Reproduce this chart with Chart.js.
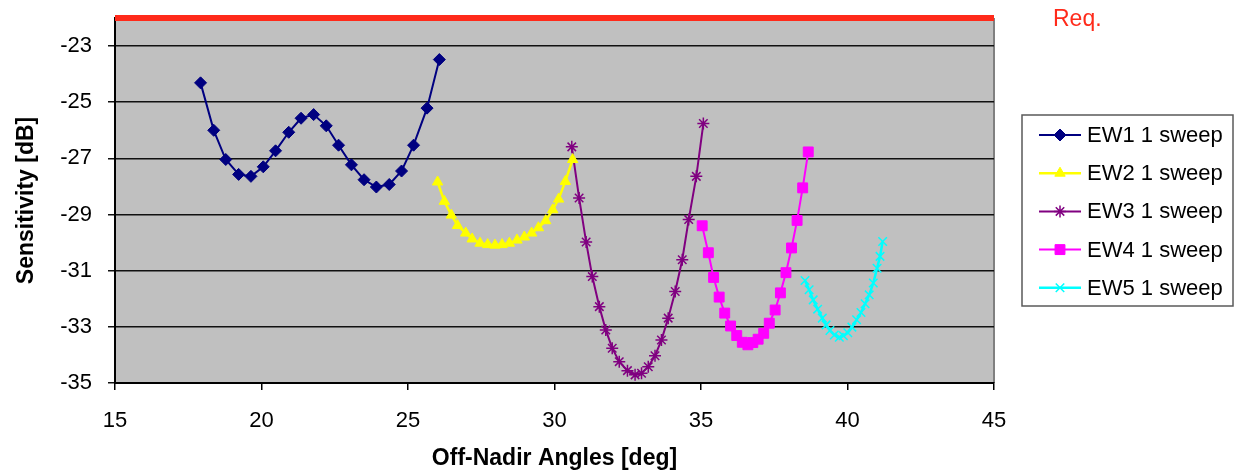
<!DOCTYPE html>
<html>
<head>
<meta charset="utf-8">
<script src="https://cdn.jsdelivr.net/npm/chart.js@4.4.1/dist/chart.umd.min.js"></script>
<style>
  html, body { margin: 0; padding: 0; background: #fff; }
  #wrap { width: 1235px; height: 476px; }
</style>
</head>
<body>
<div id="wrap"><canvas id="sensitivity" width="1235" height="476"></canvas></div>
<script>
// values (off-nadir angle in deg, sensitivity in dB)
const ew1Angles = [17.92, 18.37, 18.78, 19.22, 19.64, 20.06, 20.48, 20.93, 21.35, 21.78, 22.21, 22.63, 23.07, 23.50, 23.92, 24.36, 24.78, 25.19, 25.65, 26.07];
const ew1Sens = [-24.31, -26.0, -27.04, -27.57, -27.64, -27.30, -26.73, -26.07, -25.57, -25.44, -25.84, -26.53, -27.23, -27.76, -28.02, -27.93, -27.45, -26.53, -25.21, -23.48];

const ew2Angles = [26.01, 26.24, 26.48, 26.69, 26.97, 27.19, 27.46, 27.72, 27.97, 28.21, 28.46, 28.72, 28.97, 29.22, 29.45, 29.70, 29.94, 30.14, 30.37, 30.62];
const ew2Sens = [-27.84, -28.53, -29.02, -29.39, -29.66, -29.87, -30.02, -30.07, -30.09, -30.07, -30.02, -29.91, -29.80, -29.66, -29.47, -29.22, -28.83, -28.45, -27.82, -27.04];

const ew3Angles = [30.59, 30.84, 31.08, 31.29, 31.53, 31.75, 31.97, 32.21, 32.49, 32.75, 32.97, 33.20, 33.43, 33.65, 33.88, 34.12, 34.36, 34.58, 34.84, 35.08];
const ew3Sens = [-26.59, -28.41, -29.98, -31.21, -32.28, -33.11, -33.76, -34.24, -34.56, -34.71, -34.65, -34.42, -34.03, -33.47, -32.69, -31.74, -30.61, -29.18, -27.64, -25.76];

const ew4Angles = [35.04, 35.25, 35.43, 35.62, 35.81, 36.01, 36.22, 36.41, 36.60, 36.77, 36.95, 37.14, 37.33, 37.53, 37.71, 37.90, 38.09, 38.28, 38.47, 38.66];
const ew4Sens = [-29.40, -30.36, -31.24, -31.94, -32.51, -32.97, -33.31, -33.55, -33.64, -33.56, -33.44, -33.23, -32.87, -32.40, -31.79, -31.07, -30.19, -29.21, -28.05, -26.77];

const ew5Angles = [38.55, 38.69, 38.83, 38.98, 39.14, 39.27, 39.40, 39.55, 39.72, 39.86, 40.01, 40.15, 40.31, 40.46, 40.60, 40.74, 40.88, 41.01, 41.11, 41.20];
const ew5Sens = [-31.35, -31.68, -32.04, -32.37, -32.69, -32.93, -33.13, -33.29, -33.37, -33.32, -33.21, -33.01, -32.75, -32.49, -32.18, -31.86, -31.44, -30.91, -30.49, -29.96];

const seriesNames = ['EW1 1 sweep', 'EW2 1 sweep', 'EW3 1 sweep', 'EW4 1 sweep', 'EW5 1 sweep'];
const reqLevel = -22;
const reqRange = [15, 45];
const yTicks = [-35, -33, -31, -29, -27, -25, -23];

const FONT = '"Liberation Sans", Arial, sans-serif';

function toPoints(xs, ys) {
    return xs.map((x, i) => ({ x: x, y: ys[i] }));
}

function sweep(label, xs, ys, color, style, radius, width) {
    return {
        label: label,
        data: toPoints(xs, ys),
        borderColor: color,
        backgroundColor: color,
        borderWidth: width,
        pointStyle: style,
        pointRadius: radius,
        pointBorderWidth: style === 'star' || style === 'crossRot' ? 1.5 : 1,
        pointBorderColor: color,
        pointBackgroundColor: color,
        tension: 0,
        showLine: true,
        inLegend: true
    };
}

// draw a marker the same way chart.js does, with a small fallback
function marker(ctx, style, radius, x, y) {
    if (Chart.helpers && Chart.helpers.drawPoint) {
        Chart.helpers.drawPoint(ctx, { pointStyle: style, radius: radius, rotation: 0, borderWidth: 1 }, x, y);
        return;
    }
    ctx.beginPath();
    ctx.arc(x, y, radius, 0, Math.PI * 2);
    ctx.fill();
}

const extras = {
    id: 'extras',
    beforeDraw(chart) {
        const { ctx, chartArea: a } = chart;
        ctx.save();
        ctx.fillStyle = '#c0c0c0';
        ctx.fillRect(a.left, a.top, a.right - a.left, a.bottom - a.top);
        ctx.strokeStyle = '#808080';
        ctx.lineWidth = 2;
        ctx.beginPath();
        ctx.moveTo(a.right, a.top);
        ctx.lineTo(a.right, a.bottom);
        ctx.stroke();
        ctx.restore();
    },
    afterDraw(chart) {
        const { ctx, chartArea: a } = chart;
        const yScale = chart.scales.y;
        ctx.save();

        // Req. label next to the red line
        ctx.fillStyle = '#ff2a1a';
        ctx.font = '23px ' + FONT;
        ctx.textBaseline = 'middle';
        ctx.textAlign = 'left';
        ctx.fillText('Req.', a.right + 59, yScale.getPixelForValue(reqLevel) + 2);

        // legend box
        const bx = 1022, by = 115, bw = 211, bh = 191;
        ctx.strokeStyle = '#5a5a5a';
        ctx.lineWidth = 1.5;
        ctx.strokeRect(bx, by, bw, bh);

        const items = chart.data.datasets.filter(d => d.inLegend);
        ctx.font = '22px ' + FONT;
        items.forEach((d, i) => {
            const cy = 135 + i * 38.2;
            ctx.strokeStyle = d.borderColor;
            ctx.lineWidth = d.borderWidth;
            ctx.beginPath();
            ctx.moveTo(1039, cy);
            ctx.lineTo(1081, cy);
            ctx.stroke();
            ctx.fillStyle = d.pointBackgroundColor;
            ctx.strokeStyle = d.pointBorderColor;
            ctx.lineWidth = d.pointBorderWidth;
            marker(ctx, d.pointStyle, d.pointRadius, 1060, cy);
            ctx.fillStyle = '#000';
            ctx.textAlign = 'left';
            ctx.textBaseline = 'middle';
            ctx.fillText(d.label, 1087, cy + 1);
        });
        ctx.restore();
    }
};

new Chart(document.getElementById('sensitivity'), {
    type: 'scatter',
    data: {
        datasets: [
            sweep(seriesNames[0], ew1Angles, ew1Sens, '#000080', 'rectRot', 6, 2),
            sweep(seriesNames[1], ew2Angles, ew2Sens, '#ffff00', 'triangle', 6, 2.5),
            sweep(seriesNames[2], ew3Angles, ew3Sens, '#800080', 'star', 6, 2),
            sweep(seriesNames[3], ew4Angles, ew4Sens, '#ff00ff', 'rect', 7, 2),
            sweep(seriesNames[4], ew5Angles, ew5Sens, '#00ffff', 'crossRot', 6, 2.5),
            {
                label: 'Req.',
                data: reqRange.map(x => ({ x: x, y: reqLevel })),
                borderColor: '#ff2a1a',
                backgroundColor: '#ff2a1a',
                borderWidth: 6,
                pointRadius: 0,
                showLine: true,
                clip: false
            }
        ]
    },
    options: {
        responsive: false,
        animation: false,
        devicePixelRatio: 1,
        layout: { padding: { left: 10, right: 241, top: 18, bottom: 0 } },
        plugins: {
            legend: { display: false },
            tooltip: { enabled: false }
        },
        scales: {
            x: {
                type: 'linear',
                min: 15,
                max: 45,
                ticks: { stepSize: 5, color: '#000', font: { family: FONT, size: 22 }, padding: 18, maxRotation: 0 },
                grid: { drawOnChartArea: false, drawTicks: true, tickLength: 7, color: '#000', lineWidth: 1.5 },
                border: { color: '#000', width: 2 },
                title: {
                    display: true,
                    text: 'Off-Nadir Angles [deg]',
                    color: '#000',
                    font: { family: FONT, size: 23, weight: 'bold' },
                    padding: { top: 0, bottom: 4 }
                },
                afterFit: s => { s.height = 93; }
            },
            y: {
                type: 'linear',
                min: -35,
                max: reqLevel,
                afterBuildTicks: s => { s.ticks = yTicks.map(v => ({ value: v })); },
                ticks: { color: '#000', font: { family: FONT, size: 22 }, padding: 16 },
                grid: { color: '#111', lineWidth: 1.5, tickLength: 7 },
                border: { color: '#000', width: 2 },
                title: {
                    display: true,
                    text: 'Sensitivity [dB]',
                    color: '#000',
                    font: { family: FONT, size: 23, weight: 'bold' },
                    padding: { top: 3, bottom: 0 }
                },
                afterFit: s => { s.width = 105; s.paddingTop = 0; s.paddingBottom = 0; }
            }
        }
    },
    plugins: [extras]
});
</script>
</body>
</html>
